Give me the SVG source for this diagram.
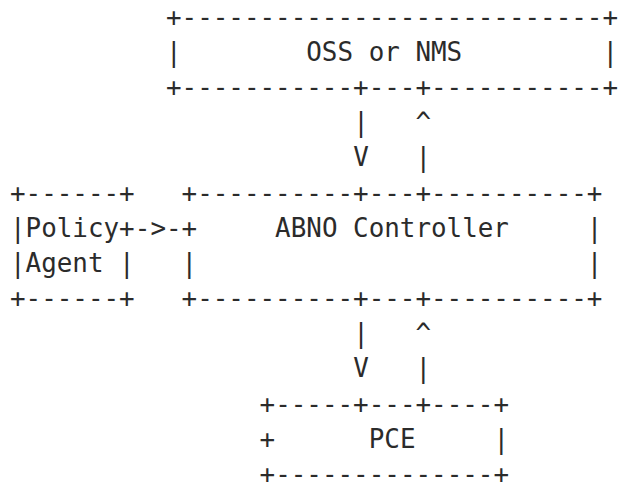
<svg xmlns="http://www.w3.org/2000/svg" width="618" height="489" viewBox="0 0 618 489">
<style>
text{font-family:"DejaVu Sans Mono","Liberation Mono",monospace;font-size:25.9px;fill:#2b2b2b;white-space:pre}
</style>
<rect width="618" height="489" fill="#ffffff"/>
<g id="oss" xml:space="preserve">
<text x="166" y="25.5">+---------------------------+</text>
<text x="166" y="60.7">|        OSS or NMS         |</text>
<text x="166" y="95.9">+-----------+---+-----------+</text>
</g>
<g id="policy" xml:space="preserve">
<text x="10" y="201.5">+------+</text>
<text x="10" y="236.6">|Policy+</text>
<text x="10" y="271.8">|Agent |</text>
<text x="10" y="307">+------+</text>
</g>
<g id="controller" xml:space="preserve">
<text x="181.6" y="201.5">+----------+---+----------+</text>
<text x="181.6" y="236.6">+     ABNO Controller     |</text>
<text x="181.6" y="271.8">|                         |</text>
<text x="181.6" y="307">+----------+---+----------+</text>
</g>
<g id="pce" xml:space="preserve">
<text x="259.6" y="412.6">+-----+---+----+</text>
<text x="259.6" y="447.8">+      PCE     |</text>
<text x="259.6" y="483">+--------------+</text>
</g>
<g id="connectors" xml:space="preserve">
<text x="353.2" y="131.1">|   ^</text>
<text x="353.2" y="166.3">V   |</text>
<text x="134.8" y="236.6">-&gt;-</text>
<text x="353.2" y="342.2">|   ^</text>
<text x="353.2" y="377.4">V   |</text>
</g>
</svg>
